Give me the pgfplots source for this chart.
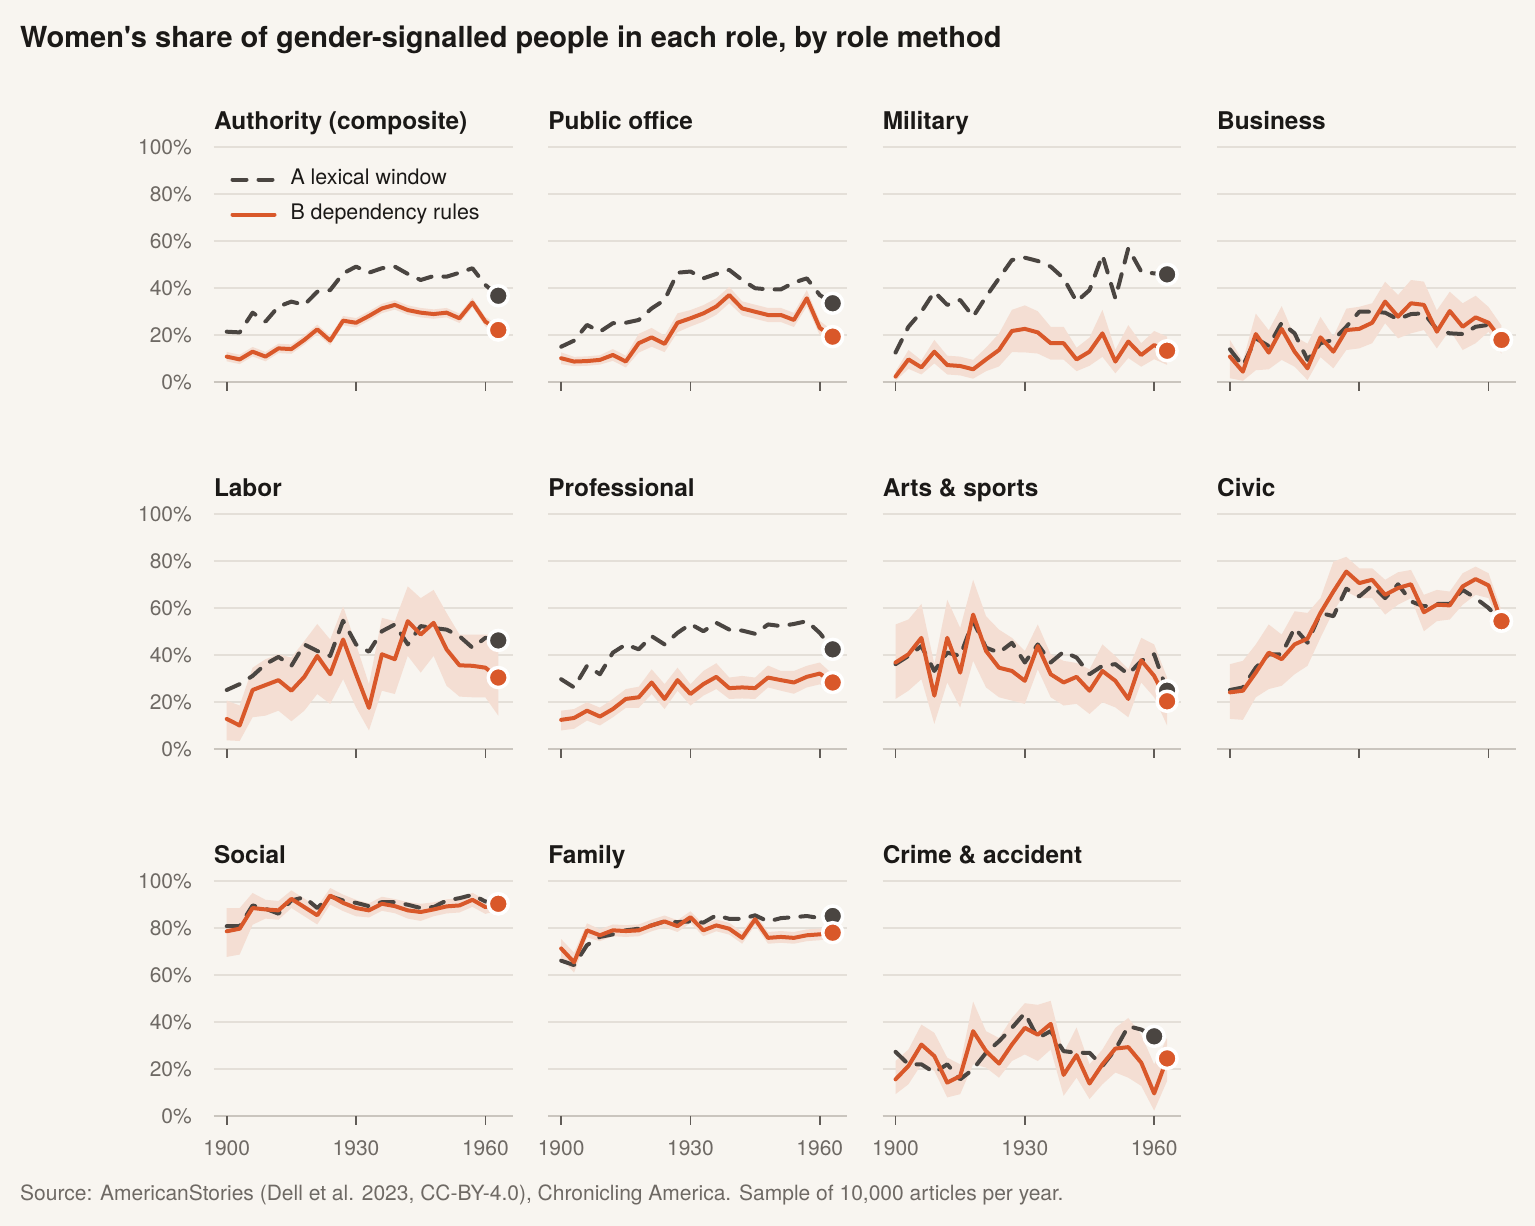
\documentclass[border=0pt]{standalone}
\usepackage{fontspec}
\setmainfont{TeX Gyre Heros}
\usepackage{xcolor}
\usepackage{pgfplots}
\pgfplotsset{compat=1.18}
\usepackage{pgfplotstable}
\usepgfplotslibrary{fillbetween}

\definecolor{bgc}{HTML}{F8F5F0}
\definecolor{darkc}{HTML}{4A4541}
\definecolor{orangec}{HTML}{D9582A}
\definecolor{bandc}{HTML}{F4DED3}
\definecolor{gridc}{HTML}{E4DFD8}
\definecolor{axisc}{HTML}{CAC5BE}
\definecolor{tickc}{HTML}{615C57}
\definecolor{labelc}{HTML}{6E6964}
\definecolor{titlec}{HTML}{1B1917}
\pagecolor{bgc}

\newcommand\myTitleFont{\fontsize{29}{34}\selectfont\bfseries}
\newcommand\myPanelFont{\fontsize{24.4}{29}\selectfont\bfseries}
\newcommand\myTickFont{\fontsize{21}{25}\selectfont}
\newcommand\myLegFont{\fontsize{21.4}{25}\selectfont}
\newcommand\mySrcFont{\fontsize{21}{25}\selectfont}

\pgfplotstableread{
x A B lo hi
1900 21.4 10.8 8.8 12.8
1903 21.1 9.6 7.6 11.6
1906 29.5 12.9 10.9 14.9
1909 25.7 10.8 8.8 12.8
1912 32.1 14.3 12.3 16.3
1915 34.2 14.0 12.0 16.0
1918 32.8 17.9 15.9 19.9
1921 38.4 22.4 20.4 24.4
1924 39.1 17.6 15.6 19.6
1927 46.2 26.1 24.1 28.1
1930 49.1 25.2 23.2 27.2
1933 46.5 28.1 26.1 30.1
1936 48.4 31.3 29.3 33.3
1939 49.1 32.8 30.8 34.8
1942 46.0 30.6 28.6 32.6
1945 43.4 29.5 27.5 31.5
1948 45.1 28.9 26.9 30.9
1951 44.8 29.5 27.5 31.5
1954 46.5 27.1 25.1 29.1
1957 48.4 33.8 31.8 35.8
1960 41.3 25.7 23.7 27.7
1963 36.7 22.1 20.1 24.1
}\tAuth

\pgfplotstableread{
x A B lo hi
1900 15.0 10.1 7.6 12.6
1903 17.6 8.7 6.7 10.7
1906 24.3 8.9 6.9 10.9
1909 21.4 9.4 7.4 11.4
1912 25.0 11.5 9.0 14.0
1915 25.2 8.7 6.2 11.2
1918 26.4 16.5 12.5 20.5
1921 31.3 19.0 15.0 23.0
1924 34.9 16.2 12.7 19.7
1927 46.5 25.2 21.2 29.2
1930 47.0 27.1 23.6 30.6
1933 44.1 29.2 25.7 32.7
1936 46.0 32.1 28.6 35.6
1939 47.7 37.0 33.5 40.5
1942 43.4 31.3 28.3 34.3
1945 39.9 29.9 26.9 32.9
1948 39.4 28.5 25.5 31.5
1951 39.4 28.5 25.5 31.5
1954 42.3 26.4 23.4 29.4
1957 44.1 35.6 32.1 39.1
1960 37.0 23.0 20.0 26.0
1963 33.5 19.3 16.8 21.8
}\tPub

\pgfplotstableread{
x A B lo hi
1900 12.5 2.3 0.5 4.5
1903 23.5 9.6 5.6 13.6
1906 29.9 6.2 3.2 9.2
1909 38.4 12.9 7.9 17.9
1912 32.8 7.2 3.2 11.2
1915 34.9 6.8 2.8 10.8
1918 27.8 5.4 1.4 9.4
1921 36.3 9.6 4.6 14.6
1924 44.1 13.6 6.6 20.6
1927 51.9 21.7 12.7 30.7
1930 52.9 22.6 12.6 32.6
1933 51.5 21.1 12.1 30.1
1936 49.1 16.5 9.5 23.5
1939 44.1 16.5 9.5 23.5
1942 34.2 9.6 4.6 14.6
1945 39.1 12.9 6.9 18.9
1948 54.0 20.7 10.7 30.7
1951 35.6 8.7 3.7 13.7
1954 56.9 17.2 10.2 24.2
1957 47.0 11.5 6.5 16.5
1960 46.2 15.7 9.7 21.7
1963 45.8 13.3 7.3 19.3
}\tMil

\pgfplotstableread{
x A B lo hi
1900 13.9 10.8 1.6 17.9
1903 6.8 4.4 0.5 9.0
1906 18.6 20.4 5.0 29.1
1909 15.3 12.5 5.4 22.0
1912 25.2 22.6 9.4 32.3
1915 20.7 12.9 6.5 19.4
1918 9.4 5.8 0.8 16.3
1921 16.5 19.0 10.6 27.7
1924 17.9 12.9 5.8 19.3
1927 23.5 22.1 13.6 31.2
1930 29.9 22.6 14.3 32.0
1933 29.9 25.2 16.5 33.5
1936 29.5 34.2 25.0 42.7
1939 26.7 27.8 18.6 37.0
1942 28.9 33.5 20.7 43.4
1945 29.2 32.8 22.1 42.7
1948 22.4 21.4 14.3 30.5
1951 20.7 30.2 22.1 38.4
1954 20.4 23.5 13.6 33.5
1957 23.5 27.5 16.5 36.7
1960 24.3 25.2 21.4 31.9
1963 18.0 17.9 12.0 24.0
}\tBus

\pgfplotstableread{
x A B lo hi
1900 25.1 12.8 3.7 20.6
1903 27.6 10.0 3.4 18.5
1906 31.1 25.1 13.5 34.6
1909 36.1 27.2 14.2 38.2
1912 39.2 29.3 16.3 40.3
1915 35.4 24.8 11.8 38.9
1918 44.5 30.7 16.3 45.9
1921 41.7 39.6 23.4 53.2
1924 39.6 31.8 19.2 46.6
1927 54.6 46.6 29.7 60.7
1930 44.5 31.8 17.7 44.5
1933 41.4 17.5 7.9 27.6
1936 50.1 40.3 24.8 55.8
1939 53.0 38.2 23.4 54.4
1942 44.5 54.4 39.6 69.2
1945 52.3 48.7 32.5 64.2
1948 51.5 53.7 39.6 67.7
1951 50.8 42.4 26.9 57.9
1954 48.0 35.6 22.3 48.7
1957 43.1 35.4 22.0 48.7
1960 47.3 34.6 22.0 48.7
1963 46.2 30.4 14.2 48.7
}\tLab

\pgfplotstableread{
x A B lo hi
1900 29.7 12.4 7.9 16.3
1903 26.2 13.2 8.6 17.0
1906 35.4 16.3 12.1 19.9
1909 31.8 13.8 10.0 17.6
1912 41.0 17.0 13.5 21.3
1915 44.5 21.3 17.5 25.5
1918 42.4 22.0 17.5 26.5
1921 48.0 28.3 23.4 33.9
1924 44.5 21.3 17.0 27.6
1927 49.4 29.3 24.8 34.6
1930 53.2 23.4 18.5 27.6
1933 50.1 27.6 22.7 33.2
1936 53.7 30.7 25.5 36.5
1939 50.8 25.9 21.3 30.4
1942 50.4 26.2 21.5 31.1
1945 49.0 25.9 21.3 30.4
1948 53.0 30.4 26.2 35.5
1951 52.3 29.3 24.8 33.2
1954 53.2 28.3 23.5 33.2
1957 54.4 30.7 26.2 35.4
1960 49.4 32.1 27.5 36.8
1963 42.4 28.3 24.8 31.8
}\tProf

\pgfplotstableread{
x A B lo hi
1900 36.1 36.8 21.3 53.0
1903 39.6 40.3 24.8 55.1
1906 43.8 47.3 29.7 61.7
1909 33.2 22.7 10.7 36.1
1912 41.0 47.3 28.3 63.5
1915 39.6 32.5 17.7 51.5
1918 54.4 57.2 37.5 72.0
1921 43.1 41.7 26.2 56.5
1924 41.0 34.6 22.0 50.8
1927 45.2 33.2 20.6 47.3
1930 36.8 29.0 19.2 41.7
1933 44.5 43.8 33.9 53.0
1936 36.8 31.8 22.0 40.3
1939 41.4 28.3 18.5 37.5
1942 38.9 30.7 19.2 36.6
1945 31.8 24.8 14.9 33.9
1948 35.4 33.2 19.9 44.5
1951 36.1 29.0 17.7 39.6
1954 31.8 21.3 13.5 33.9
1957 37.5 37.7 28.3 47.3
1960 40.3 31.1 22.0 44.5
1963 24.8 20.3 10.0 30.4
}\tArts

\pgfplotstableread{
x A B lo hi
1900 25.1 24.1 12.8 36.1
1903 26.2 24.8 12.4 37.5
1906 34.6 32.5 22.0 44.5
1909 40.3 41.0 25.5 53.0
1912 40.3 38.2 26.9 48.7
1915 51.5 44.5 31.8 58.6
1918 45.2 47.0 35.4 57.9
1921 57.9 57.9 47.3 64.2
1924 56.5 67.0 58.6 79.7
1927 68.2 75.5 67.0 81.8
1930 64.9 70.6 64.2 76.9
1933 69.6 72.0 64.2 76.9
1936 64.2 65.6 57.2 72.0
1939 70.1 68.5 61.4 75.2
1942 62.8 70.1 64.2 76.2
1945 60.7 58.2 50.1 65.6
1948 61.7 61.4 54.4 67.7
1951 61.7 61.1 55.1 67.0
1954 67.7 69.2 61.4 74.8
1957 64.2 72.3 65.6 77.6
1960 60.0 69.6 64.2 74.8
1963 54.4 54.4 50.0 59.0
}\tCiv

\pgfplotstableread{
x A B lo hi
1900 80.8 78.6 67.7 88.5
1903 80.8 79.7 68.7 88.5
1906 89.6 88.5 81.4 94.9
1909 88.2 87.9 84.0 92.0
1912 86.1 87.5 83.5 91.5
1915 91.7 92.4 88.5 96.0
1918 93.1 88.9 85.0 92.5
1921 88.5 85.4 81.5 89.0
1924 93.5 93.8 90.0 97.0
1927 91.7 90.7 87.2 94.2
1930 90.7 88.5 85.0 92.0
1933 89.3 87.5 84.5 90.5
1936 91.0 90.3 87.3 93.3
1939 91.0 89.3 86.3 92.3
1942 89.9 87.5 84.0 91.0
1945 88.5 86.8 83.0 90.3
1948 88.9 87.9 85.0 90.9
1951 91.7 89.2 86.2 92.2
1954 92.7 89.6 86.6 92.6
1957 94.1 92.0 89.0 95.0
1960 91.3 88.9 86.0 91.9
1963 90.3 90.3 87.5 93.0
}\tSoc

\pgfplotstableread{
x A B lo hi
1900 66.1 71.3 67.3 75.3
1903 64.2 65.4 61.0 69.5
1906 72.7 79.0 76.0 82.0
1909 76.2 76.9 74.4 79.4
1912 77.3 79.0 76.5 81.5
1915 79.0 78.7 76.2 81.2
1918 79.7 79.0 76.5 81.5
1921 81.1 81.1 78.6 83.6
1924 82.8 82.8 80.3 85.3
1927 82.5 80.8 78.3 83.3
1930 82.8 84.6 82.1 87.1
1933 82.3 79.0 76.5 81.5
1936 85.4 81.1 78.6 83.6
1939 83.9 79.7 77.2 82.2
1942 83.9 75.8 73.3 78.3
1945 85.4 83.7 81.2 86.2
1948 82.8 75.8 73.3 78.3
1951 84.2 76.2 73.7 78.7
1954 84.6 75.8 73.3 78.3
1957 85.1 76.9 74.4 79.4
1960 84.2 77.3 74.8 79.8
1963 85.1 78.0 75.5 80.5
}\tFam

\pgfplotstableread{
x A B lo hi
1900 27.3 15.6 9.3 23.4
1903 22.0 21.3 13.5 28.3
1906 22.0 30.4 22.0 38.9
1909 18.5 25.5 19.2 35.4
1912 22.0 14.2 7.9 24.8
1915 15.6 17.0 9.3 22.0
1918 19.9 36.1 22.0 48.7
1921 26.9 27.6 20.6 36.1
1924 31.8 22.3 16.3 33.2
1927 37.5 30.4 23.4 41.7
1930 43.8 37.5 26.2 48.0
1933 33.2 34.6 23.4 47.3
1936 36.1 39.2 28.3 49.0
1939 27.6 17.5 8.6 26.9
1942 26.9 25.9 16.3 37.7
1945 26.9 13.8 7.2 22.0
1948 21.3 22.0 13.5 28.3
1951 28.3 28.7 18.5 37.5
1954 38.2 29.3 16.3 41.7
1957 36.8 22.7 12.8 34.6
1960 33.9 9.6 2.3 22.0
1963 nan 24.5 14.9 33.2
}\tCrime

\pgfplotsset{
  Aline/.style={draw=darkc, line width=4pt, dash pattern=on 14pt off 12pt, line cap=round, line join=round},
  Bline/.style={draw=orangec, line width=4pt, line cap=round, line join=round},
  Adot/.style={only marks, mark=*, mark size=10pt, mark options={solid, fill=darkc, draw=white, line width=3.5pt}},
  Bdot/.style={only marks, mark=*, mark size=10pt, mark options={solid, fill=orangec, draw=white, line width=3.5pt}},
  common/.style={
    scale only axis, width=298.7pt, height=235pt,
    xmin=1897, xmax=1966.3, ymin=0, ymax=100,
    anchor=south west, clip=false, unbounded coords=jump,
    axis x line*=bottom, axis y line*=left,
    x axis line style={draw=axisc, line width=2.5pt, -},
    y axis line style={draw=none, -},
    xtick={1900,1930,1960}, xticklabels={1900,1930,1960},
    ytick={0,20,40,60,80,100}, yticklabels={0\%,20\%,40\%,60\%,80\%,100\%},
    ymajorgrids, grid style={draw=gridc, line width=1.2pt},
    tick align=outside, major tick length=9pt,
    xtick style={draw=tickc, line width=1.6pt},
    ytick style={draw opacity=0},
    ticklabel style={font=\myTickFont, text=labelc},
    yticklabel style={anchor=east, inner sep=0pt, xshift=-12.8pt},
    xticklabel style={anchor=north, inner sep=0pt, yshift=-15.7pt},
    every axis title/.style={at={(0,1)}, anchor=base west, yshift=17.7pt, font=\myPanelFont, text=titlec, inner sep=0pt},
    legend style={at={(0,1)}, anchor=north west, xshift=16.7pt, yshift=-22.7pt,
      draw=none, fill=none, inner sep=0pt, outer sep=0pt, row sep=15pt,
      font=\myLegFont, text=titlec,
      nodes={inner sep=0pt, text height=15pt, text depth=5pt, anchor=west},
      /tikz/every odd column/.append style={column sep=14pt}},
    legend cell align=left,
    legend image code/.code={\draw[##1] (0pt,0pt) -- (42pt,0pt);},
  },
  nox/.style={xticklabels={,,}},
  noy/.style={yticklabels={,,,,,}},
}

\newcommand{\panel}[7]{%
\begin{axis}[common, at={(#2pt,#3pt)}, title={#4}, #5]
\addplot[draw=none, name path=lo, forget plot] table[x=x,y=lo]{#1};
\addplot[draw=none, name path=hi, forget plot] table[x=x,y=hi]{#1};
\addplot[fill=bandc, draw=none, forget plot] fill between[of=hi and lo];
\addplot[Aline] table[x=x,y=A]{#1};
\addplot[Bline] table[x=x,y=B]{#1};
\addplot[Adot] coordinates {#6};
\addplot[Bdot] coordinates {#7};
\draw[tickc, line width=1.6pt] (axis cs:1900,0) -- ([yshift=-9.5pt]axis cs:1900,0);
\draw[tickc, line width=1.6pt] (axis cs:1930,0) -- ([yshift=-9.5pt]axis cs:1930,0);
\draw[tickc, line width=1.6pt] (axis cs:1960,0) -- ([yshift=-9.5pt]axis cs:1960,0);
\end{axis}}

\begin{document}
\begin{tikzpicture}
\path (0pt,0pt) rectangle (1535pt,1226pt);

\node[anchor=base west, font=\myTitleFont, text=titlec, inner sep=0pt] at (20pt,1178pt)
  {Women\textquotesingle s share of gender-signalled people in each role, by role method};

\panel{\tAuth}{213.8}{844}{Authority (composite)}{nox, legend entries={A lexical window, B dependency rules}}{(1963,36.7)}{(1963,22.1)}
\panel{\tPub}{548.2}{844}{Public office}{nox, noy}{(1963,33.5)}{(1963,19.3)}
\panel{\tMil}{882.6}{844}{Military}{nox, noy}{(1963,45.8)}{(1963,13.3)}
\panel{\tBus}{1217.0}{844}{Business}{nox, noy}{(1963,18.0)}{(1963,17.9)}

\panel{\tLab}{213.8}{477}{Labor}{nox}{(1963,46.2)}{(1963,30.4)}
\panel{\tProf}{548.2}{477}{Professional}{nox, noy}{(1963,42.4)}{(1963,28.3)}
\panel{\tArts}{882.6}{477}{Arts \& sports}{nox, noy}{(1963,24.8)}{(1963,20.3)}
\panel{\tCiv}{1217.0}{477}{Civic}{nox, noy}{(1963,54.4)}{(1963,54.4)}

\panel{\tSoc}{213.8}{110}{Social}{}{(1963,90.3)}{(1963,90.3)}
\panel{\tFam}{548.2}{110}{Family}{noy}{(1963,85.1)}{(1963,78.0)}
\panel{\tCrime}{882.6}{110}{Crime \& accident}{noy}{(1960,33.9)}{(1963,24.5)}

\node[anchor=base west, font=\mySrcFont, text=labelc, inner sep=0pt] at (20pt,25pt)
  {Source: AmericanStories (Dell et al. 2023, CC-BY-4.0), Chronicling America. Sample of 10,000 articles per year.};
\end{tikzpicture}
\end{document}
